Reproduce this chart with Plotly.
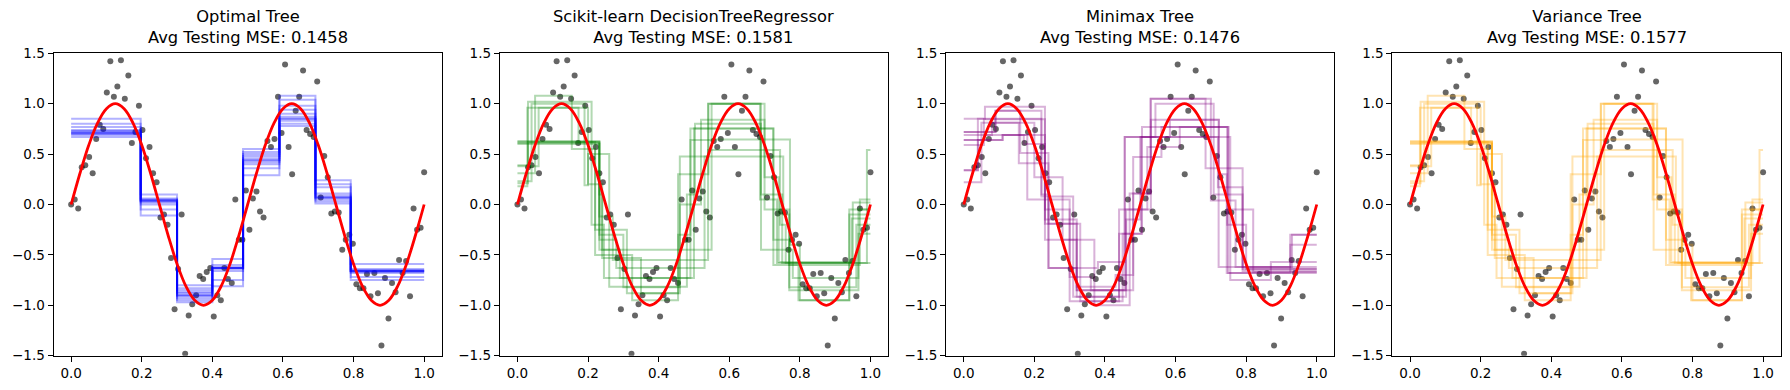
import plotly.graph_objects as go

# Chart: four regression-tree variants fitted on noisy sine data

# --- data ---
titles = ["Optimal Tree", "Scikit-learn DecisionTreeRegressor", "Minimax Tree", "Variance Tree"]
avg_mse = [0.1458, 0.1581, 0.1476, 0.1577]
tree_colors = ["blue", "green", "purple", "orange"]

# noisy training points
points_x = [0.000, 0.010, 0.020, 0.030, 0.040, 0.051, 0.061, 0.071, 0.081, 0.091,
            0.101, 0.111, 0.121, 0.131, 0.141, 0.152, 0.162, 0.172, 0.182, 0.192,
            0.202, 0.212, 0.222, 0.232, 0.242, 0.253, 0.263, 0.273, 0.283, 0.293,
            0.303, 0.313, 0.323, 0.333, 0.343, 0.354, 0.364, 0.374, 0.384, 0.394,
            0.404, 0.414, 0.424, 0.434, 0.444, 0.455, 0.465, 0.475, 0.485, 0.495,
            0.505, 0.515, 0.525, 0.535, 0.545, 0.556, 0.566, 0.576, 0.586, 0.596,
            0.606, 0.616, 0.626, 0.636, 0.646, 0.657, 0.667, 0.677, 0.687, 0.697,
            0.707, 0.717, 0.727, 0.737, 0.747, 0.758, 0.768, 0.778, 0.788, 0.798,
            0.808, 0.818, 0.828, 0.838, 0.848, 0.859, 0.869, 0.879, 0.889, 0.899,
            0.909, 0.919, 0.929, 0.939, 0.949, 0.960, 0.970, 0.980, 0.990, 1.000]
points_y = [0.00, 0.05, -0.04, 0.37, 0.39, 0.47, 0.31, 0.65, 0.79, 0.75,
            1.11, 1.42, 1.07, 1.17, 1.43, 1.05, 1.28, 0.61, 0.72, 0.98,
            0.74, 0.46, 0.57, 0.31, 0.22, -0.13, -0.10, -0.20, -0.53, -1.04,
            -0.64, -0.10, -1.48, -1.10, -0.99, -0.90, -0.71, -0.74, -0.67, -0.63,
            -1.11, -0.90, -0.95, -0.63, -0.74, -0.78, 0.05, -0.35, -0.35, 0.14,
            -0.25, 0.06, 0.13, -0.07, -0.13, 0.63, 0.57, 0.65, 1.07, 0.71,
            1.39, 0.57, 0.30, 0.93, 1.07, 1.33, 0.74, 0.70, 0.67, 1.22,
            0.07, 0.48, 0.27, -0.09, -0.07, -0.08, -0.45, -0.35, -0.30, -0.39,
            -0.79, -0.83, -0.83, -0.69, -0.91, -0.68, -0.88, -1.40, -0.73, -1.13,
            -0.78, -0.87, -0.55, -0.68, -0.56, -0.91, -0.04, -0.25, -0.23, 0.32]

# true function (red curve), read at steps of 0.025
curve_x = [0.0, 0.025, 0.05, 0.075, 0.1, 0.125, 0.15, 0.175, 0.2, 0.225,
           0.25, 0.275, 0.3, 0.325, 0.35, 0.375, 0.4, 0.425, 0.45, 0.475,
           0.5, 0.525, 0.55, 0.575, 0.6, 0.625, 0.65, 0.675, 0.7, 0.725,
           0.75, 0.775, 0.8, 0.825, 0.85, 0.875, 0.9, 0.925, 0.95, 0.975, 1.0]
curve_y = [0.0, 0.31, 0.59, 0.81, 0.95, 1.0, 0.95, 0.81, 0.59, 0.31,
           0.0, -0.31, -0.59, -0.81, -0.95, -1.0, -0.95, -0.81, -0.59, -0.31,
           0.0, 0.31, 0.59, 0.81, 0.95, 1.0, 0.95, 0.81, 0.59, 0.31,
           0.0, -0.31, -0.59, -0.81, -0.95, -1.0, -0.95, -0.81, -0.59, -0.31, 0.0]

# Optimal trees: same split points, leaf values differ from run to run
opt_splits = [0.197, 0.30, 0.40, 0.487, 0.59, 0.692, 0.792]
opt_values = [
    [0.85, 0.02, -0.88, -0.63, 0.46, 0.87, 0.07, -0.66],
    [0.80, 0.10, -0.80, -0.54, 0.55, 1.08, 0.24, -0.59],
    [0.77, 0.06, -0.85, -0.60, 0.50, 0.98, 0.17, -0.64],
    [0.74, 0.05, -0.90, -0.62, 0.48, 0.94, 0.11, -0.65],
    [0.73, 0.04, -0.91, -0.63, 0.44, 0.90, 0.09, -0.66],
    [0.72, 0.03, -0.90, -0.63, 0.42, 0.85, 0.07, -0.66],
    [0.71, 0.04, -0.93, -0.64, 0.40, 0.83, 0.05, -0.67],
    [0.70, 0.00, -0.95, -0.66, 0.36, 0.80, 0.03, -0.68],
    [0.69, -0.05, -0.97, -0.75, 0.29, 0.78, 0.01, -0.72],
    [0.67, -0.11, -0.83, -0.81, 0.52, 1.04, 0.20, -0.75],
    [0.71, 0.04, -0.87, -0.63, 0.44, 0.85, 0.07, -0.66],
]

# scikit-learn trees
sk_splits = [
    [0.232, 0.30, 0.46, 0.54, 0.69, 0.75, 0.947],
    [0.03, 0.21, 0.245, 0.50, 0.725, 0.77, 0.966],
    [0.232, 0.24, 0.55, 0.772, 0.80, 0.94],
    [0.05, 0.154, 0.22, 0.31, 0.455, 0.541, 0.687, 0.735],
    [0.028, 0.173, 0.22, 0.325, 0.455, 0.49, 0.725, 0.796, 0.94],
    [0.232, 0.27, 0.54, 0.744, 0.76, 0.99],
    [0.04, 0.19, 0.20, 0.26, 0.48, 0.503, 0.69, 0.78, 0.966],
    [0.232, 0.28, 0.53, 0.753, 0.77, 0.97],
    [0.06, 0.20, 0.24, 0.35, 0.46, 0.52, 0.70, 0.74, 0.95],
    [0.03, 0.232, 0.29, 0.49, 0.55, 0.70, 0.77, 0.96],
]
sk_values = [
    [0.62, -0.30, -0.82, 0.475, 1.00, 0.10, -0.58, -0.14],
    [0.39, 1.02, -0.20, -0.73, 0.755, -0.35, -0.85, -0.29],
    [0.60, 0.10, -0.45, 0.645, -0.40, -0.95, -0.05],
    [0.31, 1.08, 0.55, -0.25, -0.88, 0.30, 1.00, 0.05, -0.58],
    [0.18, 0.96, 0.62, -0.50, -0.95, -0.30, 0.755, -0.60, -0.95, -0.10],
    [0.63, -0.12, -0.55, 0.54, -0.20, -0.58, 0.54],
    [0.23, 1.00, 0.19, 0.50, -0.815, 0.10, 0.80, -0.45, -0.73, -0.05],
    [0.61, -0.35, -0.63, 0.475, -0.10, -0.60, 0.05],
    [0.38, 0.96, 0.20, -0.53, -0.88, 0.00, 0.84, 0.27, -0.57, 0.02],
    [0.21, 0.62, -0.45, -0.73, 0.64, 1.00, -0.05, -0.82, -0.20],
]

# Minimax trees
mm_splits = [
    [0.06, 0.23, 0.32, 0.46, 0.53, 0.70, 0.77, 0.93],
    [0.09, 0.22, 0.24, 0.38, 0.456, 0.543, 0.708, 0.79],
    [0.04, 0.11, 0.23, 0.30, 0.44, 0.505, 0.746, 0.80],
    [0.057, 0.23, 0.32, 0.43, 0.48, 0.53, 0.723, 0.745],
    [0.05, 0.156, 0.24, 0.32, 0.46, 0.50, 0.755, 0.87],
    [0.08, 0.20, 0.28, 0.37, 0.47, 0.529, 0.685, 0.79],
    [0.11, 0.18, 0.30, 0.36, 0.456, 0.584, 0.722, 0.925],
    [0.09, 0.16, 0.24, 0.32, 0.48, 0.56, 0.75, 0.82],
    [0.04, 0.22, 0.31, 0.44, 0.52, 0.612, 0.749, 0.925],
    [0.06, 0.17, 0.23, 0.33, 0.45, 0.503, 0.72, 0.79],
]
mm_values = [
    [0.85, 0.97, -0.15, -0.85, -0.05, 1.05, 0.04, -0.62, -0.30],
    [0.72, 0.93, 0.10, -0.63, -0.57, 0.67, 1.00, 0.10, -0.66],
    [0.34, 0.64, 0.69, -0.05, -0.96, -0.29, 0.77, -0.20, -0.64],
    [0.59, 0.845, -0.35, -0.815, -0.70, 0.11, 0.84, 0.30, -0.68],
    [0.22, 0.81, 0.41, -0.19, -0.915, -0.15, 0.67, -0.75, -0.57],
    [0.69, 0.81, 0.27, -0.35, -1.00, 0.11, 1.05, 0.36, -0.62],
    [0.64, 0.69, 0.05, -0.72, -0.85, 0.67, 0.84, -0.62, -0.40],
    [0.72, 0.93, 0.51, -0.63, -0.85, 0.47, 0.77, -0.05, -0.67],
    [0.34, 0.85, 0.08, -0.915, -0.05, 0.57, 0.77, -0.68, -0.30],
    [0.64, 0.69, 0.60, -0.19, -0.96, -0.29, 0.67, 0.17, -0.64],
]

# Variance trees look the same as the scikit-learn ones in the picture
var_splits = sk_splits
var_values = sk_values

panels = [
    ([opt_splits] * len(opt_values), opt_values),
    (sk_splits, sk_values),
    (mm_splits, mm_values),
    (var_splits, var_values),
]

# --- figure ---
W, H = 1790, 390
FONT = "DejaVu Sans"

fig = go.Figure()


def add_panel(i, splits_list, values_list, color):
    xa = "x" if i == 0 else f"x{i + 1}"
    ya = "y" if i == 0 else f"y{i + 1}"

    # training points
    fig.add_trace(go.Scatter(
        x=points_x, y=points_y, mode="markers", xaxis=xa, yaxis=ya,
        marker=dict(color="rgba(0,0,0,0.6)", size=6, line=dict(width=0)),
        showlegend=False, hoverinfo="skip"))

    # one step line per tree
    for splits, values in zip(splits_list, values_list):
        fig.add_trace(go.Scatter(
            x=[0.0] + list(splits) + [1.0],
            y=list(values) + [values[-1]],
            mode="lines", line=dict(color=color, width=2, shape="hv"),
            opacity=0.3, xaxis=xa, yaxis=ya, showlegend=False, hoverinfo="skip"))

    # true function
    fig.add_trace(go.Scatter(
        x=curve_x, y=curve_y, mode="lines", xaxis=xa, yaxis=ya,
        line=dict(color="red", width=2.8, shape="spline"),
        showlegend=False, hoverinfo="skip"))


for i, (spl, vals) in enumerate(panels):
    add_panel(i, spl, vals, tree_colors[i])

# axes placed to match the reference pixel layout
left0, step, width = 53.5, 446.3, 388.3
y_dom = [(H - 355.7) / H, (H - 53.3) / H]

layout = dict(
    template="none",
    width=W, height=H, autosize=False,
    margin=dict(l=0, r=0, t=0, b=0, pad=0, autoexpand=False),
    paper_bgcolor="white", plot_bgcolor="white",
    font=dict(family=FONT, size=13.5, color="black"),
    showlegend=False,
)
annotations = []
for i in range(4):
    sfx = "" if i == 0 else str(i + 1)
    x0 = (left0 + i * step) / W
    x1 = (left0 + i * step + width) / W
    common = dict(showline=True, mirror=True, linecolor="black", linewidth=1,
                  ticks="outside", ticklen=5, tickwidth=1, tickcolor="black",
                  showgrid=False, zeroline=False, automargin=False,
                  tickfont=dict(family=FONT, size=13.5, color="black"))
    layout["xaxis" + sfx] = dict(domain=[x0, x1], range=[-0.05, 1.05], dtick=0.2,
                                 tick0=0, tickformat=".1f", anchor="y" + sfx, **common)
    layout["yaxis" + sfx] = dict(domain=y_dom, range=[-1.5, 1.5], dtick=0.5,
                                 tick0=0, tickformat=".1f", anchor="x" + sfx, **common)
    annotations.append(dict(
        x=(x0 + x1) / 2, y=y_dom[1], xref="paper", yref="paper",
        xanchor="center", yanchor="bottom", yshift=4, showarrow=False,
        text=f"{titles[i]}<br>Avg Testing MSE: {avg_mse[i]:.4f}",
        font=dict(family=FONT, size=16.3, color="black")))
layout["annotations"] = annotations

fig.update_layout(**layout)
# drop the browser's default page margin so the figure sits at (0, 0)
fig.write_html("out.html", config={"displayModeBar": False},
               post_script="document.body.style.margin = '0';")
